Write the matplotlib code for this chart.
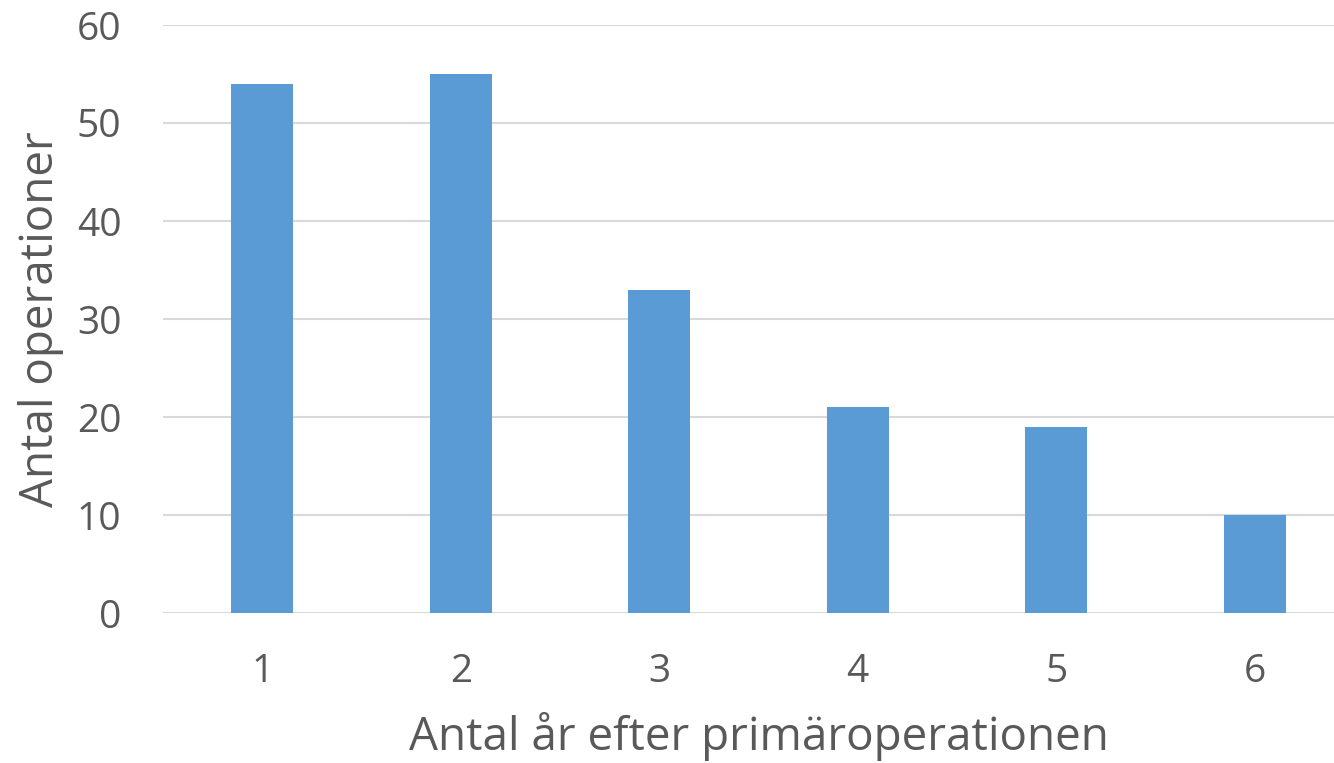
import matplotlib
matplotlib.use("Agg")
import matplotlib.pyplot as plt

categories = ["1", "2", "3", "4", "5", "6"]
values = [54, 55, 33, 21, 19, 10]
yticks = [0, 10, 20, 30, 40, 50, 60]

plt.rcParams['font.family'] = ['Open Sans', 'DejaVu Sans']

W, H = 1334, 763
fig = plt.figure(figsize=(W / 100, H / 100), dpi=100)
left, right = 163, 1354
bottom, top = 613, 25
ax = fig.add_axes([left / W, 1 - bottom / H, (right - left) / W, (bottom - top) / H])

x = list(range(1, len(categories) + 1))
ax.bar(x, values, width=0.31, color="#5B9BD5", zorder=3)
ax.set_xlim(0.5, 6.5)
ax.set_ylim(0, 60)
ax.set_yticks(yticks)
ax.set_xticks(x)
ax.set_xticklabels(categories)
ax.yaxis.grid(True, color="#D9D9D9", linewidth=1.5, zorder=0)
ax.set_axisbelow(True)
for s in ax.spines.values():
    s.set_visible(False)
ax.tick_params(axis="both", length=0, labelsize=28, colors="#595959")
ax.tick_params(axis="y", pad=30)
ax.tick_params(axis="x", pad=29)
ax.set_xlabel("Antal år efter primäroperationen", fontsize=33, color="#595959", labelpad=15)
ax.set_ylabel("Antal operationer", fontsize=33, color="#595959")
ax.yaxis.set_label_coords(-(left - 64) / (right - left), 0.5)

fig.savefig("out.png", dpi=100)
